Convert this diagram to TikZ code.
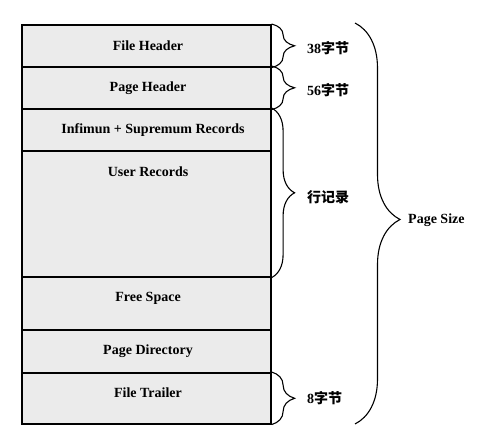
\documentclass[tikz,border=0pt]{standalone}
\usepackage{fontspec}
\setmainfont{Liberation Serif}
\newfontfamily\cjk{Noto Sans CJK SC}
\usetikzlibrary{decorations.pathreplacing}
\begin{document}
\begin{tikzpicture}[x=1pt,y=-1pt,
  seg/.style={draw=black,fill=gray!16,line width=1.6pt,inner sep=0pt,minimum width=249pt,anchor=north west},
  lbl/.style={font=\fontsize{14}{16}\selectfont\bfseries,inner sep=0pt},
  side/.style={font=\fontsize{14}{16}\selectfont\bfseries,inner sep=0pt,anchor=west},
  sbrace/.style={decorate,decoration={brace,amplitude=23pt},line width=1.1pt},
  bbrace/.style={decorate,decoration={brace,amplitude=45pt,aspect=0.49},line width=1.1pt}]
\useasboundingbox (0,0) rectangle (482,435);
\node[seg,minimum height=42pt] (fh) at (21,24) {};
\node[seg,minimum height=42pt] (ph) at (21,66) {};
\node[seg,minimum height=42pt] (inf) at (21,108) {};
\node[seg,minimum height=126pt] (ur) at (21,150) {};
\node[seg,minimum height=53pt] (fs) at (21,276) {};
\node[seg,minimum height=43pt] (pd) at (21,329) {};
\node[seg,minimum height=51pt] (ft) at (21,372) {};
\node[lbl] (tfh) at (148,46) {File Header};
\node[lbl] (tph) at (148,88) {Page Header};
\node[lbl] (tinf) at (153,130) {Infimun + Supremum Records};
\node[lbl] (tur) at (148,172) {User Records};
\node[lbl] (tfs) at (148,298) {Free Space};
\node[lbl] (tpd) at (148,351) {Page Directory};
\node[lbl] (tft) at (148,393) {File Trailer};
\draw[sbrace] (fh.north east) -- (fh.south east);
\draw[sbrace] (ph.north east) -- (ph.south east);
\draw[sbrace] (inf.north east) -- (ur.south east);
\draw[sbrace] (ft.north east) -- (ft.south east);
\node[side] (l38) at (307,48) {38{\cjk\bfseries 字节}};
\node[side] (l56) at (307,90) {56{\cjk\bfseries 字节}};
\node[side] (lrec) at (307,197) {{\cjk\bfseries 行记录}};
\node[side] (l8) at (307,398) {8{\cjk\bfseries 字节}};
\coordinate (btop) at (355,23);
\coordinate (bbot) at (355,424);
\draw[bbrace] (btop) -- (bbot);
\node[side] (lps) at (408,220) {Page Size};
\end{tikzpicture}
\end{document}
